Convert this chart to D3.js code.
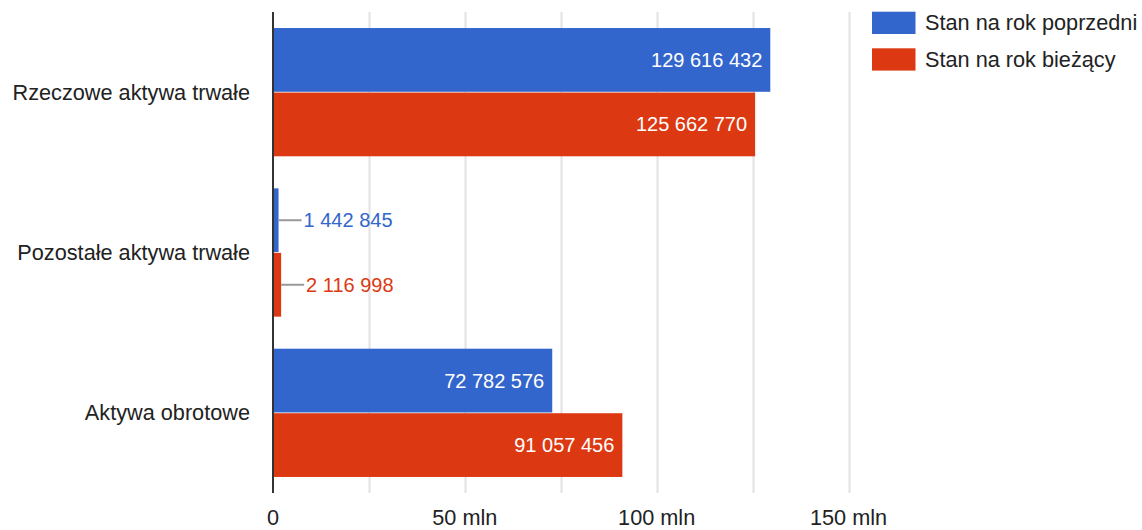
<!DOCTYPE html>
<html>
<head>
<meta charset="utf-8">
<script src="https://cdn.jsdelivr.net/npm/d3@7/dist/d3.min.js"></script>
<style>
  html, body { margin: 0; padding: 0; background: #fff; }
  svg { display: block; font-family: Arial, "Liberation Sans", sans-serif; }
</style>
</head>
<body>
<svg id="chart" width="1142" height="530"></svg>
<script>
const categories = ["Rzeczowe aktywa trwałe", "Pozostałe aktywa trwałe", "Aktywa obrotowe"];
const seriesNames = ["Stan na rok poprzedni", "Stan na rok bieżący"];
const seriesColors = ["#3366cc", "#dc3912"];
const previousYear = [129616432, 1442845, 72782576];
const currentYear = [125662770, 2116998, 91057456];
const gridValues = [0, 25e6, 50e6, 75e6, 100e6, 125e6, 150e6];
const tickValues = [0, 50e6, 100e6, 150e6];
const tickLabels = ["0", "50 mln", "100 mln", "150 mln"];

const series = [previousYear, currentYear];

const svg = d3.select("#chart");
const plotLeft = 273, plotRight = 848.5, plotTop = 12, plotBottom = 493;

const x = d3.scaleLinear().domain([0, 150e6]).range([plotLeft, plotRight]);
const y0 = d3.scaleBand().domain(categories).range([plotTop, plotBottom]).paddingInner(0.2).paddingOuter(0.1);
const y1 = d3.scaleBand().domain(d3.range(series.length)).range([0, y0.bandwidth()]).paddingInner(0.012);

const fmt = v => d3.format(",")(v).replace(/,/g, " ");

// gridlines
svg.append("g").selectAll("line").data(gridValues.filter(v => v > 0)).join("line")
  .attr("x1", d => Math.round(x(d)) + 0.5).attr("x2", d => Math.round(x(d)) + 0.5)
  .attr("y1", plotTop).attr("y2", plotBottom)
  .attr("stroke", "#e2e2e2").attr("stroke-width", 2);

// bars
const groups = svg.append("g").selectAll("g").data(categories).join("g")
  .attr("transform", d => `translate(0,${y0(d)})`);

groups.each(function(cat, ci) {
  const g = d3.select(this);
  series.forEach((vals, si) => {
    const v = vals[ci];
    const by = y1(si), bh = y1.bandwidth();
    g.append("rect")
      .attr("x", x(0)).attr("y", by)
      .attr("width", x(v) - x(0)).attr("height", bh)
      .attr("fill", seriesColors[si]);
    const t = g.append("text")
      .attr("y", by + bh / 2)
      .attr("dy", "0.35em")
      .attr("font-size", 20)
      .text(fmt(v));
    const tw = t.node().getComputedTextLength();
    const barW = x(v) - x(0);
    if (tw + 16 < barW) {
      t.attr("x", x(v) - 8).attr("text-anchor", "end").attr("fill", "#ffffff");
    } else {
      g.append("line")
        .attr("x1", x(v)).attr("x2", x(v) + 23)
        .attr("y1", by + bh / 2).attr("y2", by + bh / 2)
        .attr("stroke", "#999").attr("stroke-width", 2);
      t.attr("x", x(v) + 25).attr("text-anchor", "start").attr("fill", seriesColors[si]);
    }
  });
});

// baseline
svg.append("line")
  .attr("x1", x(0)).attr("x2", x(0))
  .attr("y1", plotTop).attr("y2", plotBottom)
  .attr("stroke", "#333").attr("stroke-width", 2);

// category labels
svg.append("g").selectAll("text").data(categories).join("text")
  .attr("x", 250).attr("y", d => y0(d) + y0.bandwidth() / 2)
  .attr("dy", "0.35em")
  .attr("text-anchor", "end")
  .attr("font-size", 21.7)
  .attr("fill", "#222")
  .text(d => d);

// x tick labels
svg.append("g").selectAll("text").data(tickValues).join("text")
  .attr("x", d => x(d)).attr("y", 525)
  .attr("text-anchor", "middle")
  .attr("font-size", 21.7)
  .attr("fill", "#222")
  .text((d, i) => tickLabels[i]);

// legend
const legend = svg.append("g").selectAll("g").data(seriesNames).join("g")
  .attr("transform", (d, i) => `translate(872,${11.7 + i * 36.6})`);
legend.append("rect").attr("width", 43.5).attr("height", 22.3)
  .attr("fill", (d, i) => seriesColors[i]);
legend.append("text").attr("x", 53).attr("y", 11.15).attr("dy", "0.35em")
  .attr("font-size", 21.7).attr("fill", "#222").text(d => d);
</script>
</body>
</html>
